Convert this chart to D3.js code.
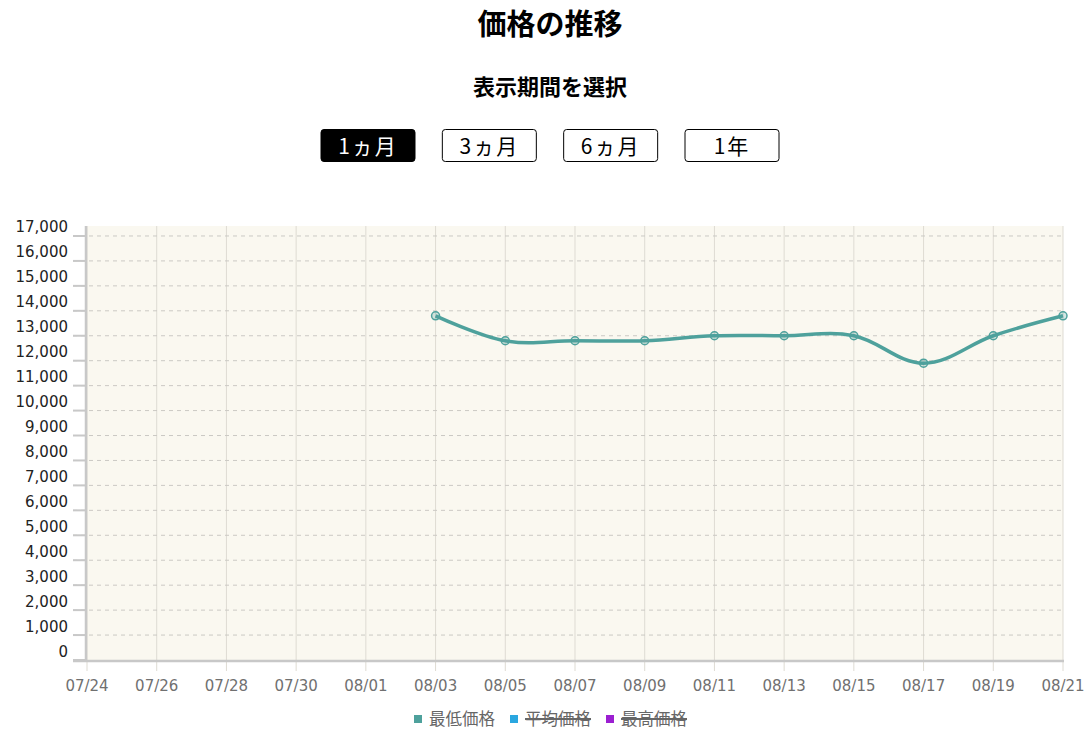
<!DOCTYPE html>
<html>
<head>
<meta charset="utf-8">
<script src="https://cdn.jsdelivr.net/npm/d3@7"></script>
<style>
  body { margin: 0; background: #fff; }
  svg text { font-family: "DejaVu Sans", Verdana, sans-serif; }
  .jp { font-family: "Noto Sans CJK JP", "Noto Sans", sans-serif; }
</style>
</head>
<body>
<div id="chart"></div>
<script>
// chart data
const periods = ["1ヵ月", "3ヵ月", "6ヵ月", "1年"];
const dates = ["08/03", "08/05", "08/07", "08/09", "08/11", "08/13", "08/15", "08/17", "08/19", "08/21"];
const minPrice = [13800, 12800, 12800, 12800, 13000, 13000, 13000, 11900, 13000, 13800];
const legendNames = ["最低価格", "平均価格", "最高価格"];
const legendColors = ["#4ea19c", "#2aa7e0", "#9b1fd1"];
const yTicks = d3.range(0, 17001, 1000);

const parse = d3.timeParse("%Y/%m/%d");
const toDate = s => parse("2023/" + s);
const startDay = toDate("07/24"), endDay = toDate("08/21");

const W = 1090, H = 730;
const svg = d3.select("#chart").append("svg")
  .attr("width", W).attr("height", H);

// header
svg.append("text").attr("class", "jp")
  .attr("x", 550).attr("y", 35).attr("text-anchor", "middle")
  .style("font-size", "29px").style("font-weight", "bold")
  .text("価格の推移");
svg.append("text").attr("class", "jp")
  .attr("x", 550).attr("y", 95).attr("text-anchor", "middle")
  .style("font-size", "22px").style("font-weight", "bold")
  .text("表示期間を選択");

// period buttons
const btnX = d3.scalePoint().domain(periods).range([368, 732]);
const btn = svg.selectAll(".btn").data(periods).enter().append("g")
  .attr("class", "btn")
  .attr("transform", d => "translate(" + btnX(d) + ",0)");
btn.append("rect")
  .attr("x", -47).attr("y", 129.5).attr("width", 94).attr("height", 32)
  .attr("rx", 3)
  .attr("fill", (d, i) => i === 0 ? "#000" : "#fff")
  .attr("stroke", "#000").attr("stroke-width", 1);
btn.append("text").attr("class", "jp")
  .attr("y", 154).attr("text-anchor", "middle")
  .style("font-size", "21px").style("letter-spacing", "2px")
  .attr("fill", (d, i) => i === 0 ? "#fff" : "#000")
  .text(d => d);

// scales
const x = d3.scaleTime().domain([startDay, endDay]).range([87, 1063]);
const y = d3.scaleLinear().domain([0, 17400]).range([660, 226]);
const days = d3.timeDay.range(startDay, d3.timeDay.offset(endDay, 1));
const xTicks = days.filter((d, i) => i % 2 === 0);

// plot background
svg.append("rect")
  .attr("x", x.range()[0]).attr("y", y.range()[1])
  .attr("width", x.range()[1] - x.range()[0])
  .attr("height", y.range()[0] - y.range()[1])
  .attr("fill", "#faf8f0");

// vertical grid
svg.append("g").selectAll("line").data(xTicks).enter().append("line")
  .attr("x1", d => x(d)).attr("x2", d => x(d))
  .attr("y1", y.range()[1]).attr("y2", 671)
  .attr("stroke", "#dedbd3").attr("stroke-width", 1);

// horizontal dashed grid
svg.append("g").selectAll("line").data(yTicks.filter(d => d > 0)).enter().append("line")
  .attr("x1", 73).attr("x2", 1063)
  .attr("y1", d => y(d)).attr("y2", d => y(d))
  .attr("stroke", "#cbc9c4").attr("stroke-width", 1)
  .attr("stroke-dasharray", "4,4");
// y tick marks
svg.append("g").selectAll("line").data(yTicks).enter().append("line")
  .attr("x1", 73).attr("x2", 86)
  .attr("y1", d => y(d)).attr("y2", d => y(d))
  .attr("stroke", "#c8c8c8").attr("stroke-width", 2);

// axes lines
svg.append("line").attr("x1", 86).attr("x2", 86)
  .attr("y1", y.range()[1]).attr("y2", 662)
  .attr("stroke", "#c8c8c8").attr("stroke-width", 2.5);
svg.append("line").attr("x1", 73).attr("x2", 1064)
  .attr("y1", 661).attr("y2", 661)
  .attr("stroke", "#c8c8c8").attr("stroke-width", 2.5);

// y labels
svg.append("g").selectAll("text").data(yTicks).enter().append("text")
  .attr("x", 68).attr("y", d => y(d) - 3.5)
  .attr("text-anchor", "end")
  .style("font-size", "15px").attr("fill", "#222")
  .text(d => d3.format(",")(d));

// x labels
svg.append("g").selectAll("text").data(xTicks).enter().append("text")
  .attr("x", d => x(d)).attr("y", 691)
  .attr("text-anchor", "middle")
  .style("font-size", "15px").attr("fill", "#707070")
  .text(d3.timeFormat("%m/%d"));

// series
const pts = dates.map((d, i) => ({ date: toDate(d), value: minPrice[i] }));
const line = d3.line()
  .x(d => x(d.date)).y(d => y(d.value))
  .curve(d3.curveCardinal.tension(-0.1));
svg.append("path").datum(pts)
  .attr("d", line)
  .attr("fill", "none")
  .attr("stroke", legendColors[0]).attr("stroke-width", 3.5);
svg.append("g").selectAll("circle").data(pts).enter().append("circle")
  .attr("cx", d => x(d.date)).attr("cy", d => y(d.value))
  .attr("r", 4)
  .attr("fill", "rgba(78,161,156,0.25)")
  .attr("stroke", legendColors[0]).attr("stroke-width", 1.5);

// legend
const legendX = [414, 510, 606];
const lg = svg.selectAll(".lg").data(legendNames).enter().append("g")
  .attr("class", "lg")
  .attr("transform", (d, i) => "translate(" + legendX[i] + ",719)");
lg.append("rect").attr("x", 0).attr("y", -4).attr("width", 8).attr("height", 8)
  .attr("fill", (d, i) => legendColors[i]);
lg.append("text").attr("class", "jp")
  .attr("x", 15).attr("y", 6)
  .style("font-size", "16.5px").attr("fill", "#666")
  .text(d => d);
lg.filter((d, i) => i > 0).append("line")
  .attr("x1", 15).attr("x2", 81).attr("y1", 0).attr("y2", 0)
  .attr("stroke", "#666").attr("stroke-width", 2);
</script>
</body>
</html>
